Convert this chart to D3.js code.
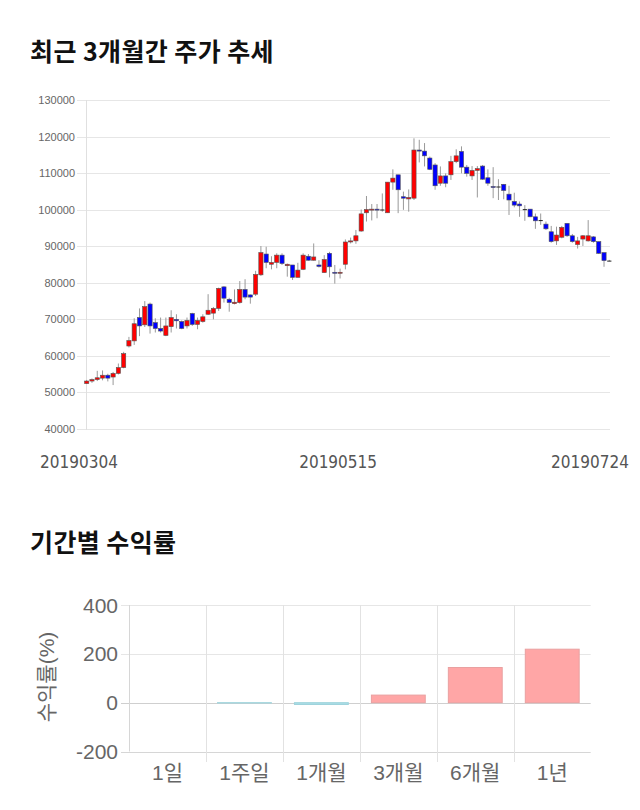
<!DOCTYPE html>
<html><head><meta charset="utf-8">
<script src="https://cdn.jsdelivr.net/npm/d3@7/dist/d3.min.js"></script>
<style>
body{margin:0;background:#fff;}
svg{display:block;}
.title{font-family:"Noto Sans CJK KR",sans-serif;font-weight:700;font-size:25px;letter-spacing:0.4px;fill:#111;}
</style></head>
<body>
<svg id="c" width="640" height="810"></svg>
<script>
// ---- Data: candlestick (trading days 2019-03-04 .. 2019-07-24) ----
const holidays = ["20190501","20190506","20190606"];
const openV  = [52300,53000,53400,53800,54600,54100,55100,56700,62600,64000,70400,68400,74100,69000,67400,65500,67900,69900,69300,68100,71500,68500,69300,71300,71600,72900,78800,75400,74200,74500,78100,76600,76800,82100,87800,85000,85500,87500,84600,84800,81400,83600,87200,86100,84800,82700,88000,82800,82700,85000,91100,91400,94100,99100,99900,100100,100000,99100,107500,109500,103500,102900,103100,116300,116000,114100,112200,107200,109200,109500,113100,115900,111600,109200,110700,111900,108700,106300,106300,106900,104200,102200,101500,100100,100100,98000,97100,96000,93900,91400,92400,96200,92800,90400,91900,91400,92500,91200,88200,86000];
const highV  = [53300,53700,55800,55900,55000,55500,57800,61000,65100,70200,72900,74900,74500,70200,70400,70400,72400,71300,69600,70400,71700,70400,71300,76800,73300,78600,79000,75800,78100,80400,80900,76700,83200,90000,89800,87200,88000,88000,85200,84800,85400,88000,87800,90700,86100,87500,88400,84800,83800,91800,92300,94400,100000,103700,101500,101500,104400,107500,111000,109500,104900,105500,119500,119100,118200,114500,112700,111800,109900,114700,116500,117300,112200,111900,111900,112200,111000,111600,108300,107000,106500,104600,102200,101200,100100,98900,98900,96700,95500,95300,95500,96200,93300,92500,93000,97100,92700,91200,88200,86200];
const lowV   = [52200,52500,53000,53200,52900,51900,54800,56500,62200,62900,65300,67800,66000,66300,66300,65300,66300,67400,67200,67400,68100,67200,69000,71100,69900,72200,74500,72000,74000,74200,75400,74200,76300,81800,83900,83600,83900,84800,81600,80700,81400,83400,86000,86000,84100,82700,81400,79700,81100,83600,90700,90600,93900,96700,97000,97600,99400,99100,105400,99000,99900,99400,102600,112900,111800,110800,105400,106500,106100,108100,112700,109900,109000,108100,103300,108100,106500,103100,102600,102800,98500,100600,98000,96900,97900,94700,95800,94400,90900,90300,92100,92500,90900,89300,90000,91200,90900,87800,84300,85800];
const closeV = [53000,53400,53900,54600,53800,55100,56700,60500,64100,68700,68100,73400,68100,67400,66700,68100,70400,69500,67400,69600,68500,69600,70600,72400,72900,78400,75700,74500,74600,78100,76000,76000,82200,88200,85500,85500,87500,85200,85000,81400,83400,87500,86100,87000,84400,86300,84300,82600,82800,91100,91400,92800,98800,100000,100100,99900,100000,107500,108600,105400,103100,103300,116300,116000,114700,111000,106500,109200,107200,113100,114700,111600,109900,110700,111200,108300,107200,106100,106300,105200,102600,101200,101000,100100,98000,96900,97100,94700,91200,93000,95100,92800,91200,91400,92800,92800,91200,88000,86000,86000];
const priceTicks = [40000,50000,60000,70000,80000,90000,100000,110000,120000,130000];
const dateTickLabels = ["20190304","20190515","20190724"];

// ---- Data: period returns ----
const periods = ["1일","1주일","1개월","3개월","6개월","1년"];
const returns = [0, -1.5, -7.5, 31, 144, 219];
const returnTicks = [-200, 0, 200, 400];

// build trading-day categories (weekdays minus KRX holidays)
const fmt = d3.timeFormat("%Y%m%d"), parse = d3.timeParse("%Y%m%d");
const dates = [];
for (let d = parse("20190304"); d <= parse("20190724"); d = d3.timeDay.offset(d, 1)) {
  const s = fmt(d), w = d.getDay();
  if (w !== 0 && w !== 6 && !holidays.includes(s)) dates.push(s);
}
const candles = dates.map((d, i) => ({d, o: openV[i], h: highV[i], l: lowV[i], c: closeV[i]}));

const svg = d3.select("#c");

// ---------- Chart 1 ----------
svg.append("text").attr("class","title").attr("x",30).attr("y",61).text("최근 3개월간 주가 추세");

const x1 = d3.scalePoint().domain(dates).range([86.7, 609.3]);
const y1 = d3.scaleLinear().domain([40000,130000]).range([428.5, 100]);
const g1 = svg.append("g");

g1.append("g").selectAll("line").data(priceTicks).join("line")
  .attr("x1",77).attr("x2",610).attr("y1",d=>Math.round(y1(d))+0.5).attr("y2",d=>Math.round(y1(d))+0.5)
  .attr("stroke","#e6e6e6").attr("stroke-width",1);
g1.append("line").attr("x1",86.5).attr("x2",86.5).attr("y1",100).attr("y2",430).attr("stroke","#e0e0e0");
g1.append("g").selectAll("text").data(priceTicks).join("text")
  .attr("x",75).attr("y",d=>y1(d)+4).attr("text-anchor","end")
  .attr("font-family","'Liberation Sans',Arial,sans-serif").attr("font-size",11).attr("fill","#666")
  .text(d=>d);

const xt = d3.scaleTime().domain([parse(dateTickLabels[0]), parse(dateTickLabels[2])]).range([79, 590]);
g1.append("g").selectAll("text").data(dateTickLabels).join("text")
  .attr("x",d=>xt(parse(d))).attr("y",468).attr("text-anchor","middle")
  .attr("font-family","'DejaVu Sans Condensed','DejaVu Sans',sans-serif").attr("font-stretch","condensed")
  .attr("font-size",17).attr("fill","#555").text(d=>d);

const cg = g1.append("g").selectAll("g").data(candles).join("g");
cg.append("line").attr("x1",d=>x1(d.d)).attr("x2",d=>x1(d.d))
  .attr("y1",d=>y1(d.h)).attr("y2",d=>y1(d.l)).attr("stroke","#999").attr("stroke-width",1);
const bw = 4.2;
cg.append("rect")
  .attr("x",d=>x1(d.d)-bw/2).attr("width",bw)
  .attr("y",d=>y1(Math.max(d.o,d.c)))
  .attr("height",d=>Math.max(1, Math.abs(y1(d.o)-y1(d.c))))
  .attr("fill",d=>d.c>d.o?"#ff0000":(d.c<d.o?"#0000ff":"#222"))
  .attr("stroke",d=>d.c===d.o?"none":"#555").attr("stroke-width",0.6);

// ---------- Chart 2 ----------
svg.append("text").attr("class","title").attr("x",30).attr("y",552).text("기간별 수익률");

const x2 = d3.scaleBand().domain(periods).range([129, 590.7]).paddingInner(0).paddingOuter(0);
const y2 = d3.scaleLinear().domain([-200,400]).range([751.5, 605]);
const g2 = svg.append("g");

g2.append("g").selectAll("line").data(returnTicks).join("line")
  .attr("x1",121).attr("x2",590.7).attr("y1",d=>Math.round(y2(d))+0.5).attr("y2",d=>Math.round(y2(d))+0.5)
  .attr("stroke",d=>d===0?"#cfcfcf":(d===-200?"#d6d6d6":"#e6e6e6"));
const vb = periods.map(p=>x2(p));
g2.append("g").selectAll("line").data(vb).join("line")
  .attr("x1",d=>Math.round(d)+0.5).attr("x2",d=>Math.round(d)+0.5)
  .attr("y1",605).attr("y2",(d,i)=>i===0?751.5:762)
  .attr("stroke",(d,i)=>i===0?"#d6d6d6":"#e2e2e2");

g2.append("g").selectAll("rect").data(periods).join("rect")
  .attr("x",(p)=>x2(p)+x2.bandwidth()*0.15).attr("width",x2.bandwidth()*0.7)
  .attr("y",(p,i)=>y2(Math.max(0,returns[i])))
  .attr("height",(p,i)=>Math.abs(y2(returns[i])-y2(0)))
  .attr("fill",(p,i)=>returns[i]>=0?"#ffa6a6":"#a9dde6")
  .attr("stroke",(p,i)=>returns[i]>=0?"#e9a0a0":"#9fd3dc").attr("stroke-width",1);

g2.append("g").selectAll("text").data(returnTicks).join("text")
  .attr("x",118).attr("y",d=>y2(d)+7.5).attr("text-anchor","end")
  .attr("font-family","'Liberation Sans',Arial,sans-serif").attr("font-size",21).attr("fill","#666")
  .text(d=>d);
g2.append("g").selectAll("text").data(periods).join("text")
  .attr("x",p=>x2(p)+x2.bandwidth()/2).attr("y",780).attr("text-anchor","middle")
  .attr("font-family","'Liberation Sans','Noto Sans CJK KR',sans-serif").attr("font-size",21).attr("fill","#666")
  .text(p=>p);
g2.append("text").attr("transform","translate(54,677) rotate(-90)").attr("text-anchor","middle")
  .attr("font-family","'Liberation Sans','Noto Sans CJK KR',sans-serif").attr("font-size",21).attr("fill","#666")
  .text("수익률(%)");
</script>
</body></html>
